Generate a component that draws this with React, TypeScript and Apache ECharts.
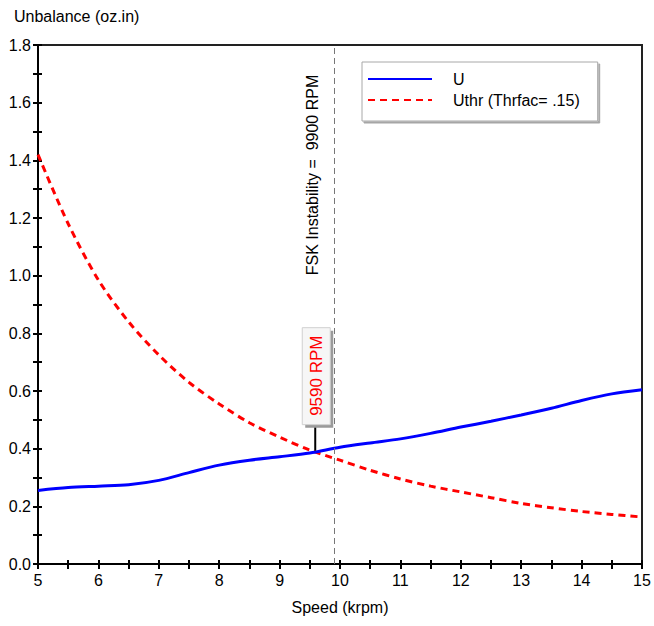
import React, { useEffect, useRef } from 'react';
import * as echarts from 'echarts';

const speedKrpm = [5, 5.5, 6, 6.5, 7, 7.5, 8, 8.5, 9, 9.5, 10, 10.5, 11, 11.5, 12, 12.5, 13, 13.5, 14, 14.5, 15];
const uValues = [0.255, 0.265, 0.27, 0.275, 0.29, 0.317, 0.343, 0.36, 0.372, 0.385, 0.405, 0.42, 0.434, 0.453, 0.475, 0.495, 0.517, 0.54, 0.567, 0.59, 0.604];
const uthrValues = [1.42, 1.18, 0.985, 0.84, 0.725, 0.63, 0.555, 0.49, 0.44, 0.395, 0.36, 0.325, 0.295, 0.27, 0.25, 0.23, 0.21, 0.195, 0.182, 0.172, 0.163];

const seriesNames = ['U', 'Uthr (Thrfac= .15)'];
const yAxisTitle = 'Unbalance (oz.in)';
const xAxisTitle = 'Speed (krpm)';
const instabilitySpeed = 9.9;
const instabilityLabel = 'FSK Instability =  9900 RPM';
const crossingPoint = [9.59, 0.393];
const crossingLabel = '9590 RPM';

const FONT = '"Liberation Sans", Arial, sans-serif';

export default function App() {
  const ref = useRef<HTMLDivElement>(null);
  useEffect(() => {
    if (!ref.current) return;
    const chart = echarts.init(ref.current, null, { renderer: 'svg' });
    const tickStyle = { color: '#000', width: 2 };
    const xBase = { type: 'value', min: 5, max: 15, interval: 0.5, position: 'bottom', splitLine: { show: false } };
    const yBase = { type: 'value', min: 0, max: 1.8, interval: 0.1, position: 'left', splitLine: { show: false } };
    const option: any = {
      animation: false,
      textStyle: { fontFamily: FONT },
      grid: { left: 38, right: 12, top: 45, bottom: 62, show: true, borderColor: '#222', borderWidth: 2, backgroundColor: '#fff' },
      legend: {
        left: 362,
        top: 62,
        orient: 'vertical',
        padding: [9, 18, 13, 5],
        itemWidth: 64,
        itemHeight: 14,
        itemGap: 5,
        backgroundColor: '#fff',
        borderColor: '#a8a8a8',
        borderWidth: 1,
        shadowColor: 'rgba(0,0,0,0.35)',
        shadowOffsetX: 2,
        shadowOffsetY: 2,
        shadowBlur: 0,
        itemStyle: { opacity: 0, borderWidth: 0 },
        textStyle: { color: '#000', fontSize: 16, fontFamily: FONT, padding: [0, 0, 0, 16] },
        data: seriesNames,
      },
      xAxis: [
        {
          ...xBase,
          axisLine: { lineStyle: { color: '#000', width: 2 } },
          axisTick: { length: 5, lineStyle: tickStyle },
          axisLabel: {
            color: '#000', fontSize: 16, margin: 8, fontFamily: FONT,
            formatter: (v: number) => (Math.abs(v - Math.round(v)) < 1e-6 ? String(Math.round(v)) : ''),
          },
          name: xAxisTitle,
          nameLocation: 'middle',
          nameGap: 35,
          nameTextStyle: { color: '#000', fontSize: 16, fontFamily: FONT },
        },
        {
          ...xBase,
          axisLine: { show: false },
          axisTick: { inside: true, length: 4, lineStyle: tickStyle },
          axisLabel: { show: false },
        },
      ],
      yAxis: [
        {
          ...yBase,
          axisLine: { lineStyle: { color: '#000', width: 2 } },
          axisTick: { length: 5, lineStyle: tickStyle },
          axisLabel: {
            color: '#000', fontSize: 16, margin: 7, fontFamily: FONT,
            formatter: (v: number) => (Math.abs(Math.round(v * 10)) % 2 === 0 ? v.toFixed(1) : ''),
          },
        },
        {
          ...yBase,
          axisLine: { show: false },
          axisTick: { inside: true, length: 4, lineStyle: tickStyle },
          axisLabel: { show: false },
        },
      ],
      series: [
        {
          name: seriesNames[0],
          type: 'line',
          xAxisIndex: 0,
          yAxisIndex: 0,
          data: speedKrpm.map((s, i) => [s, uValues[i]]),
          symbol: 'none',
          smooth: 0.3,
          lineStyle: { color: '#0000ff', width: 3 },
          itemStyle: { color: '#0000ff' },
          z: 4,
          markLine: {
            silent: true,
            symbol: ['none', 'none'],
            lineStyle: { color: '#777', type: [6, 4], width: 1 },
            label: { show: false },
            data: [{ xAxis: instabilitySpeed }],
          },
        },
        {
          name: seriesNames[1],
          type: 'line',
          xAxisIndex: 0,
          yAxisIndex: 0,
          data: speedKrpm.map((s, i) => [s, uthrValues[i]]),
          symbol: 'none',
          smooth: 0.3,
          lineStyle: { color: '#ff0000', width: 3, type: [7, 5] },
          itemStyle: { color: '#ff0000' },
          z: 3,
        },
      ],
    };
    chart.setOption(option);

    const finder = { xAxisIndex: 0, yAxisIndex: 0 };
    const topPt = chart.convertToPixel(finder, [instabilitySpeed, 1.8]) as number[];
    const pt = chart.convertToPixel(finder, crossingPoint) as number[];
    chart.setOption({
      graphic: [
        {
          type: 'text',
          x: 14,
          y: 8,
          style: { text: yAxisTitle, fill: '#000', font: `16px ${FONT}` },
        },
        {
          type: 'text',
          x: topPt[0] - 21,
          y: topPt[1] + 130,
          rotation: Math.PI / 2,
          z: 100,
          style: { text: instabilityLabel, fill: '#000', font: `16px ${FONT}`, align: 'center', verticalAlign: 'middle' },
        },
        {
          type: 'line',
          z: 100,
          shape: { x1: pt[0], y1: pt[1], x2: pt[0], y2: pt[1] - 26 },
          style: { stroke: '#000', lineWidth: 2 },
        },
        {
          type: 'rect',
          z: 100,
          shape: { x: pt[0] - 13 + 3, y: pt[1] - 123 + 3, width: 28, height: 97 },
          style: { fill: '#9a9a9a' },
        },
        {
          type: 'rect',
          z: 101,
          shape: { x: pt[0] - 13, y: pt[1] - 123, width: 28, height: 97 },
          style: { fill: '#f6f6f6', stroke: '#d0d0d0', lineWidth: 1 },
        },
        {
          type: 'text',
          x: pt[0] + 1,
          y: pt[1] - 75,
          rotation: Math.PI / 2,
          z: 102,
          style: { text: crossingLabel, fill: '#ff0000', font: `17px ${FONT}`, align: 'center', verticalAlign: 'middle' },
        },
      ],
    });
    return () => chart.dispose();
  }, []);
  return <div ref={ref} style={{ position: 'absolute', left: 0, top: 0, width: 654, height: 626 }} />;
}
